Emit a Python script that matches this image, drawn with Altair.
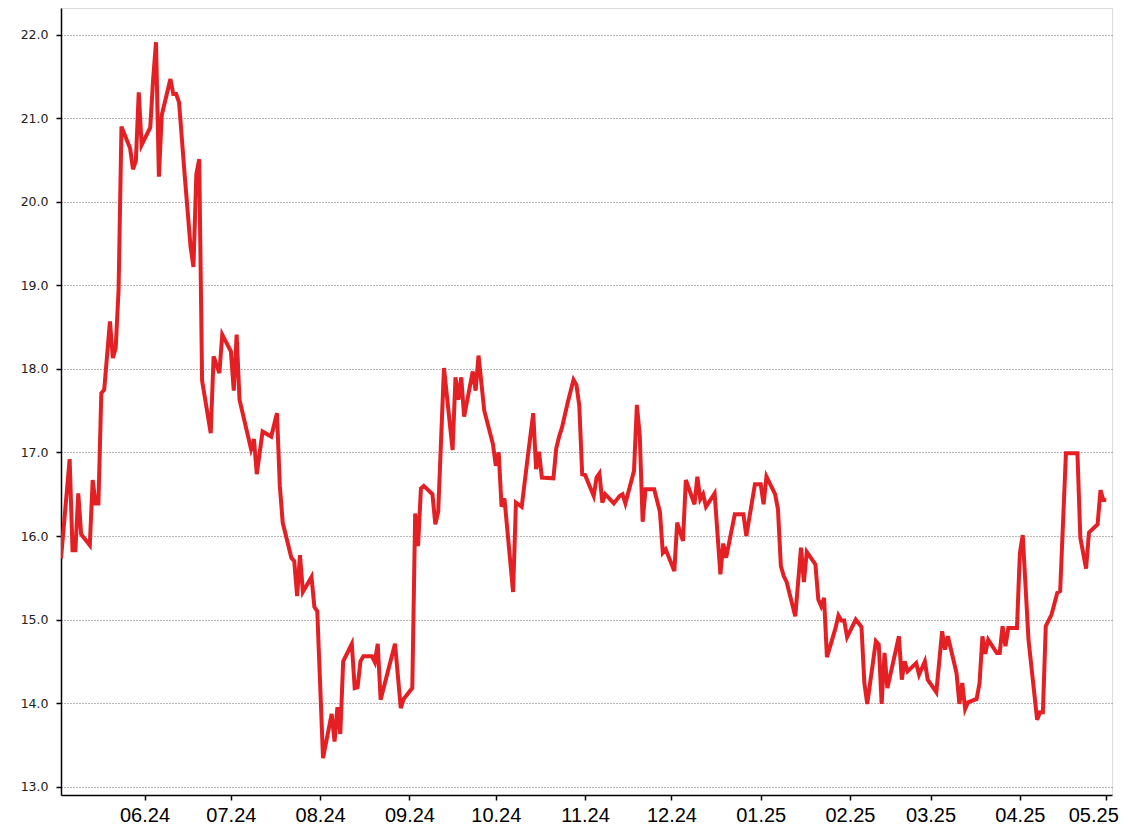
import altair as alt
import pandas as pd

dates = [
    "2024-05-03", "2024-05-06", "2024-05-07", "2024-05-08", "2024-05-09", "2024-05-10",
    "2024-05-13", "2024-05-14", "2024-05-15", "2024-05-16", "2024-05-17", "2024-05-18",
    "2024-05-20", "2024-05-21", "2024-05-22", "2024-05-23", "2024-05-24", "2024-05-27",
    "2024-05-28", "2024-05-29", "2024-05-30", "2024-05-31",
    "2024-06-03", "2024-06-04", "2024-06-05", "2024-06-06", "2024-06-07", "2024-06-10",
    "2024-06-11", "2024-06-12", "2024-06-13", "2024-06-15", "2024-06-17", "2024-06-18",
    "2024-06-19", "2024-06-20", "2024-06-21", "2024-06-24", "2024-06-25", "2024-06-27",
    "2024-06-28",
    "2024-07-01", "2024-07-02", "2024-07-03", "2024-07-04", "2024-07-08", "2024-07-09",
    "2024-07-10", "2024-07-12", "2024-07-15", "2024-07-17", "2024-07-18", "2024-07-19",
    "2024-07-22", "2024-07-23", "2024-07-24", "2024-07-25", "2024-07-26", "2024-07-29",
    "2024-07-30", "2024-07-31",
    "2024-08-02", "2024-08-05", "2024-08-06", "2024-08-07", "2024-08-08", "2024-08-09",
    "2024-08-12", "2024-08-13", "2024-08-14", "2024-08-15", "2024-08-16", "2024-08-19",
    "2024-08-20", "2024-08-21", "2024-08-22", "2024-08-27", "2024-08-29", "2024-08-30",
    "2024-09-02", "2024-09-03", "2024-09-04", "2024-09-05", "2024-09-06", "2024-09-09",
    "2024-09-10", "2024-09-11", "2024-09-12", "2024-09-13", "2024-09-16", "2024-09-17",
    "2024-09-18", "2024-09-19", "2024-09-20", "2024-09-23", "2024-09-24", "2024-09-25",
    "2024-09-27", "2024-09-30",
    "2024-10-01", "2024-10-02", "2024-10-03", "2024-10-04", "2024-10-07", "2024-10-08",
    "2024-10-10", "2024-10-12", "2024-10-14", "2024-10-15", "2024-10-16", "2024-10-17",
    "2024-10-21", "2024-10-22", "2024-10-23", "2024-10-24", "2024-10-26", "2024-10-28",
    "2024-10-29", "2024-10-30", "2024-10-31",
    "2024-11-01", "2024-11-04", "2024-11-05", "2024-11-06", "2024-11-07", "2024-11-08",
    "2024-11-11", "2024-11-13", "2024-11-14", "2024-11-15", "2024-11-18", "2024-11-19",
    "2024-11-20", "2024-11-21", "2024-11-22", "2024-11-25", "2024-11-27", "2024-11-28",
    "2024-11-29",
    "2024-12-02", "2024-12-03", "2024-12-05", "2024-12-06", "2024-12-09", "2024-12-10",
    "2024-12-11", "2024-12-12", "2024-12-13", "2024-12-16", "2024-12-18", "2024-12-19",
    "2024-12-20", "2024-12-23", "2024-12-26", "2024-12-27", "2024-12-30",
    "2025-01-01", "2025-01-02", "2025-01-03", "2025-01-06", "2025-01-07", "2025-01-08",
    "2025-01-09", "2025-01-10", "2025-01-13", "2025-01-15", "2025-01-16", "2025-01-17",
    "2025-01-20", "2025-01-21", "2025-01-22", "2025-01-23", "2025-01-24", "2025-01-27",
    "2025-01-28", "2025-01-29", "2025-01-30", "2025-01-31",
    "2025-02-03", "2025-02-05", "2025-02-06", "2025-02-07", "2025-02-10", "2025-02-11",
    "2025-02-12", "2025-02-13", "2025-02-14", "2025-02-18", "2025-02-19", "2025-02-20",
    "2025-02-21", "2025-02-24", "2025-02-25", "2025-02-27", "2025-02-28",
    "2025-03-03", "2025-03-05", "2025-03-06", "2025-03-07", "2025-03-10", "2025-03-11",
    "2025-03-12", "2025-03-13", "2025-03-14", "2025-03-17", "2025-03-18", "2025-03-19",
    "2025-03-20", "2025-03-21", "2025-03-24", "2025-03-25", "2025-03-26", "2025-03-27",
    "2025-03-28", "2025-03-31",
    "2025-04-01", "2025-04-02", "2025-04-04", "2025-04-07", "2025-04-08", "2025-04-09",
    "2025-04-10", "2025-04-12", "2025-04-14", "2025-04-15", "2025-04-17", "2025-04-21",
    "2025-04-22", "2025-04-24", "2025-04-25", "2025-04-28", "2025-04-29", "2025-04-30",
    "2025-05-01",
]

values = [
    15.73, 16.92, 15.83, 15.83, 16.51, 16.02,
    15.89, 16.67, 16.39, 16.39, 17.71, 17.75,
    18.57, 18.13, 18.25, 18.95, 20.90, 20.64,
    20.39, 20.49, 21.31, 20.68,
    20.89, 21.47, 21.91, 20.30, 21.04, 21.47,
    21.29, 21.29, 21.19, 20.30, 19.46, 19.22,
    20.33, 20.51, 17.86, 17.23, 18.15, 17.95,
    18.41,
    18.21, 17.74, 18.41, 17.63, 17.04, 17.16,
    16.74, 17.25, 17.19, 17.47, 16.60, 16.16,
    15.74, 15.70, 15.28, 15.77, 15.33, 15.51,
    15.15, 15.10,
    13.34, 13.87, 13.54, 13.95, 13.63, 14.50,
    14.71, 14.18, 14.19, 14.50, 14.56, 14.56,
    14.49, 14.71, 14.04, 14.71, 13.94, 14.05,
    14.18, 16.27, 15.88, 16.57, 16.60, 16.50,
    16.14, 16.29, 17.15, 18.01, 17.03, 17.90,
    17.63, 17.90, 17.43, 17.97, 17.74, 18.16,
    17.50, 17.10,
    16.84, 17.00, 16.35, 16.45, 15.33, 16.40,
    16.35, 16.92, 17.47, 16.80, 17.01, 16.70,
    16.69, 17.05, 17.19, 17.30, 17.60, 17.87,
    17.81, 17.56, 16.74,
    16.73, 16.48, 16.70, 16.75, 16.40, 16.50,
    16.39, 16.48, 16.50, 16.39, 16.78, 17.57,
    17.20, 16.17, 16.56, 16.56, 16.29, 15.80,
    15.84,
    15.58, 16.16, 15.94, 16.67, 16.38, 16.71,
    16.44, 16.50, 16.35, 16.51, 15.54, 15.91,
    15.74, 16.26, 16.26, 16.00, 16.62,
    16.62, 16.38, 16.71, 16.50, 16.32, 15.64,
    15.52, 15.45, 15.04, 15.86, 15.45, 15.81,
    15.66, 15.24, 15.16, 15.26, 14.55, 14.90,
    15.05, 14.99, 14.99, 14.79,
    15.00, 14.91, 14.24, 13.99, 14.74, 14.70,
    13.99, 14.60, 14.18, 14.80, 14.28, 14.50,
    14.38, 14.48, 14.34, 14.50, 14.28,
    14.13, 14.86, 14.64, 14.80, 14.36, 13.99,
    14.24, 13.93, 14.01, 14.05, 14.24, 14.80,
    14.59, 14.76, 14.60, 14.60, 14.92, 14.68,
    14.90, 14.90,
    15.79, 16.01, 14.76, 13.80, 13.89, 13.89,
    14.92, 15.06, 15.32, 15.34, 16.99, 16.99,
    15.98, 15.61, 16.04, 16.14, 16.55, 16.43,
    16.43,
]

month_ticks = [
    (2024, 6), (2024, 7), (2024, 8), (2024, 9), (2024, 10), (2024, 11),
    (2024, 12), (2025, 1), (2025, 2), (2025, 3), (2025, 4), (2025, 5),
]
y_ticks = [13, 14, 15, 16, 17, 18, 19, 20, 21, 22]

df = pd.DataFrame({"date": dates, "value": values})

x_values = [alt.DateTime(year=y, month=m, date=1, utc=True) for y, m in month_ticks]

chart = alt.Chart(df).mark_line(
    color="#E42024", strokeWidth=4, clip=True
).encode(
    x=alt.X(
        "date:T",
        scale=alt.Scale(
            type="utc",
            domain=[alt.DateTime(year=2024, month=5, date=3, utc=True),
                    alt.DateTime(year=2025, month=5, date=3, utc=True)],
            nice=False,
        ),
        axis=alt.Axis(
            values=x_values,
            labelExpr="utcFormat(datum.value, '%m.%y')",
            title=None,
            grid=False,
            labelFont="Liberation Sans",
            labelFontSize=20,
            labelColor="#000",
            labelPadding=5,
            labelOffset={
                "condition": {
                    "test": "utcyear(datum.value) == 2025 && utcmonth(datum.value) == 4",
                    "value": -13,
                },
                "value": 0,
            },
            tickSize=5,
            tickColor="#000",
            tickWidth=1.5,
            domainColor="#000",
            domainWidth=1.5,
            labelFlush=False,
            labelOverlap=False,
        ),
    ),
    y=alt.Y(
        "value:Q",
        scale=alt.Scale(domain=[12.9, 22.32], nice=False, zero=False),
        axis=alt.Axis(
            values=y_ticks,
            format=".1f",
            title=None,
            grid=True,
            gridColor="#6e6e6e",
            gridDash=[1, 2],
            gridWidth=1,
            labelFont="DejaVu Sans",
            labelFontSize=12.5,
            labelColor="#222",
            labelPadding=8,
            tickSize=5,
            tickColor="#000",
            tickWidth=1.5,
            domainColor="#000",
            domainWidth=1.5,
            labelFlush=False,
            labelOverlap=False,
        ),
    ),
).properties(
    width=1051,
    height=787,
    autosize=alt.AutoSizeParams(type="none"),
    padding={"left": 53, "top": 0, "right": 8, "bottom": 32},
).configure_view(
    stroke="#000",
    strokeWidth=1,
).configure(
    background="white",
)

chart.save("out.html", embed_options={"renderer": "svg", "actions": False})
